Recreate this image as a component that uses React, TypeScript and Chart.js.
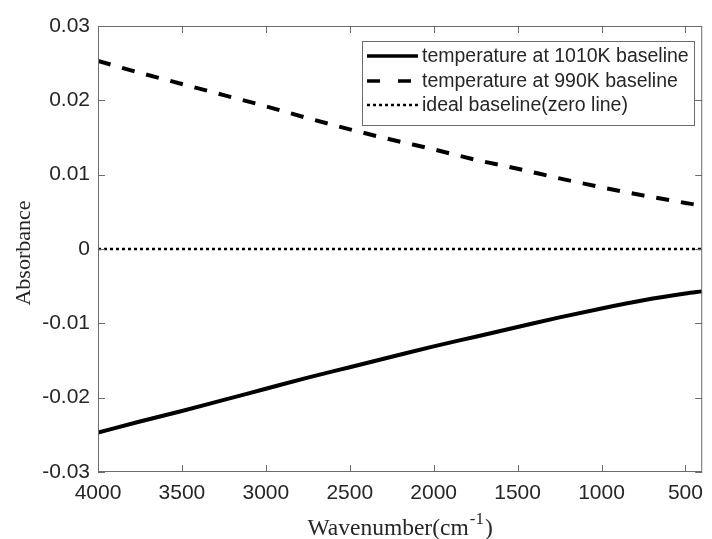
import { useEffect, useRef } from "react";
import { Chart, registerables } from "chart.js";

Chart.register(...registerables);

// Wavenumber grid (cm^-1) and baseline absorbance for each furnace temperature
const wavenumbers = [4000, 3750, 3500, 3250, 3000, 2750, 2500, 2250, 2000, 1750, 1500, 1250, 1000, 750, 500, 400];
const baseline1010K = [-0.0247, -0.0232, -0.0218, -0.0203, -0.0188, -0.0173, -0.0159, -0.0145, -0.0131, -0.0118, -0.0105, -0.0092, -0.008, -0.0069, -0.006, -0.0057];
const baseline990K = [0.0253, 0.0237, 0.0222, 0.0207, 0.0192, 0.0176, 0.0161, 0.0147, 0.0134, 0.012, 0.0108, 0.0095, 0.0083, 0.0072, 0.0062, 0.0058];
const idealBaseline = [0, 0, 0, 0, 0, 0, 0, 0, 0, 0, 0, 0, 0, 0, 0, 0];

const seriesLabels = [
  "temperature at 1010K baseline",
  "temperature at 990K baseline",
  "ideal baseline(zero line)",
];

const xTicks = [4000, 3500, 3000, 2500, 2000, 1500, 1000, 500];
const yTicks = [-0.03, -0.02, -0.01, 0, 0.01, 0.02, 0.03];
const xRange = [400, 4000];
const yRange = [-0.03, 0.03];

const AXIS_COLOR = "#6b6b6b";
const TEXT_COLOR = "#262626";
const SANS = "'Liberation Sans', Arial, sans-serif";
const SERIF = "'Liberation Serif', 'Times New Roman', serif";

const toPoints = (ys: number[]) => wavenumbers.map((x, i) => ({ x, y: ys[i] }));

// Legend sample dash patterns (drawn inside the legend box)
const legendDash: number[][] = [[], [13, 18], [3, 3]];

const framePlugin = {
  id: "frame",
  afterDatasetsDraw(chart: any) {
    const { ctx, chartArea: a, scales } = chart;
    ctx.save();
    ctx.strokeStyle = AXIS_COLOR;
    ctx.lineWidth = 1;
    ctx.setLineDash([]);
    ctx.strokeRect(a.left + 0.5, a.top + 0.5, a.right - a.left - 1, a.bottom - a.top - 1);
    const len = 7;
    ctx.beginPath();
    for (const v of xTicks) {
      const px = Math.round(scales.x.getPixelForValue(v)) + 0.5;
      ctx.moveTo(px, a.bottom);
      ctx.lineTo(px, a.bottom - len);
      ctx.moveTo(px, a.top);
      ctx.lineTo(px, a.top + len);
    }
    for (const v of yTicks) {
      const py = Math.round(scales.y.getPixelForValue(v)) + 0.5;
      ctx.moveTo(a.left, py);
      ctx.lineTo(a.left + len, py);
      ctx.moveTo(a.right, py);
      ctx.lineTo(a.right - len, py);
    }
    ctx.stroke();
    ctx.restore();
  },
};

const titlesPlugin = {
  id: "titles",
  afterDraw(chart: any) {
    const { ctx, chartArea: a } = chart;
    ctx.save();
    ctx.fillStyle = TEXT_COLOR;

    // y axis title
    ctx.font = `22px ${SERIF}`;
    ctx.textAlign = "center";
    ctx.textBaseline = "middle";
    ctx.translate(24, (a.top + a.bottom) / 2 + 4);
    ctx.rotate(-Math.PI / 2);
    ctx.fillText("Absorbance", 0, 0);
    ctx.setTransform(1, 0, 0, 1, 0, 0);

    // x axis title with superscript
    const main = "Wavenumber(cm";
    const sup = "-1";
    const tail = ")";
    ctx.textAlign = "left";
    ctx.textBaseline = "alphabetic";
    ctx.font = `23.5px ${SERIF}`;
    const wMain = ctx.measureText(main).width;
    const wTail = ctx.measureText(tail).width;
    ctx.font = `17px ${SERIF}`;
    const wSup = ctx.measureText(sup).width + 2;
    const total = wMain + wSup + wTail;
    let x = (a.left + a.right) / 2 - total / 2;
    const base = 535;
    ctx.font = `23.5px ${SERIF}`;
    ctx.fillText(main, x, base);
    x += wMain;
    ctx.font = `17px ${SERIF}`;
    ctx.fillText(sup, x + 1, base - 11);
    x += wSup;
    ctx.font = `23.5px ${SERIF}`;
    ctx.fillText(tail, x, base);
    ctx.restore();
  },
};

const legendPlugin = {
  id: "boxLegend",
  afterDraw(chart: any) {
    const { ctx } = chart;
    const box = { left: 362, top: 41, right: 695, bottom: 126 };
    ctx.save();
    ctx.fillStyle = "#ffffff";
    ctx.fillRect(box.left, box.top, box.right - box.left, box.bottom - box.top);
    ctx.strokeStyle = AXIS_COLOR;
    ctx.lineWidth = 1;
    ctx.strokeRect(box.left + 0.5, box.top + 0.5, box.right - box.left - 1, box.bottom - box.top - 1);
    const rowY = [56, 81, 105];
    chart.data.datasets.forEach((ds: any, i: number) => {
      const y = rowY[i];
      ctx.strokeStyle = ds.borderColor;
      ctx.lineWidth = i === 2 ? 2.5 : 3.5;
      ctx.setLineDash(legendDash[i]);
      ctx.lineCap = "butt";
      ctx.beginPath();
      ctx.moveTo(367, y);
      ctx.lineTo(418, y);
      ctx.stroke();
      ctx.setLineDash([]);
      ctx.fillStyle = TEXT_COLOR;
      ctx.font = `19.5px ${SANS}`;
      ctx.textAlign = "left";
      ctx.textBaseline = "middle";
      ctx.fillText(ds.label, 422, y + 1);
    });
    ctx.restore();
  },
};

export default function App() {
  const canvasRef = useRef<HTMLCanvasElement | null>(null);

  useEffect(() => {
    const canvas = canvasRef.current;
    if (!canvas) return;
    const chart = new Chart(canvas, {
      type: "line",
      data: {
        datasets: [
          {
            label: seriesLabels[0],
            data: toPoints(baseline1010K),
            borderColor: "#000000",
            borderWidth: 4,
            pointRadius: 0,
            cubicInterpolationMode: "monotone",
          },
          {
            label: seriesLabels[1],
            data: toPoints(baseline990K),
            borderColor: "#000000",
            borderWidth: 4,
            borderDash: [13, 12],
            pointRadius: 0,
            cubicInterpolationMode: "monotone",
          },
          {
            label: seriesLabels[2],
            data: toPoints(idealBaseline),
            borderColor: "#000000",
            borderWidth: 2.5,
            borderDash: [3, 3],
            pointRadius: 0,
          },
        ],
      },
      options: {
        responsive: false,
        animation: false,
        events: [],
        layout: { padding: { left: 0, top: 26, right: 2, bottom: 0 } },
        plugins: { legend: { display: false }, tooltip: { enabled: false } },
        scales: {
          x: {
            type: "linear",
            reverse: true,
            min: xRange[0],
            max: xRange[1],
            grid: { display: false, drawTicks: false },
            border: { display: false },
            afterBuildTicks: (scale: any) => {
              scale.ticks = xTicks.map((value) => ({ value }));
            },
            afterFit: (scale: any) => {
              scale.height = 67;
            },
            ticks: {
              autoSkip: false,
              maxRotation: 0,
              padding: 9,
              color: TEXT_COLOR,
              font: { family: SANS, size: 21 },
              callback: (v: any) => String(v),
            },
          },
          y: {
            type: "linear",
            min: yRange[0],
            max: yRange[1],
            grid: { display: false, drawTicks: false },
            border: { display: false },
            afterBuildTicks: (scale: any) => {
              scale.ticks = yTicks.map((value) => ({ value }));
            },
            afterFit: (scale: any) => {
              scale.width = 98;
            },
            ticks: {
              padding: 8,
              color: TEXT_COLOR,
              font: { family: SANS, size: 21 },
              callback: (v: any) => (Math.abs(v) < 1e-9 ? "0" : Number(v).toFixed(2)),
            },
          },
        },
      },
      plugins: [framePlugin, titlesPlugin, legendPlugin],
    } as any);
    return () => chart.destroy();
  }, []);

  return (
    <div style={{ position: "absolute", left: 0, top: 0, width: 712, height: 539, background: "#fff" }}>
      <canvas ref={canvasRef} width={712} height={539} style={{ width: 712, height: 539, display: "block" }} />
    </div>
  );
}
